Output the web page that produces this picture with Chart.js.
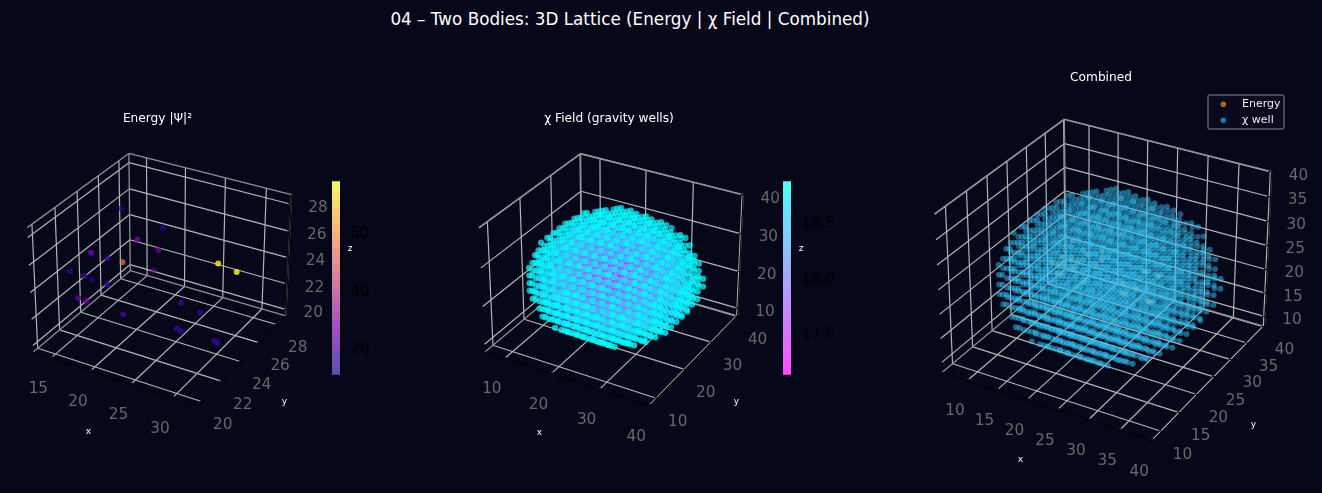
<!DOCTYPE html>
<html>
<head>
<meta charset="utf-8">
<script src="https://cdn.jsdelivr.net/npm/chart.js@4"></script>
<style>
  html, body { margin: 0; background: #07071a; width: 1322px; height: 493px; overflow: hidden; }
  canvas { position: absolute; left: 0; top: 0; }
  #suptitle { position: absolute; left: 0; top: 9px; width: 1260px; text-align: center; color: #fff;
    font: 16.8px "DejaVu Sans"; white-space: nowrap; }
</style>
</head>
<body>
<div id="suptitle">04 – Two Bodies: 3D Lattice (Energy | χ Field | Combined)</div>
<canvas id="panel1" width="1322" height="493"></canvas>
<canvas id="panel2" width="1322" height="493"></canvas>
<canvas id="panel3" width="1322" height="493"></canvas>
<canvas id="cbar1" width="80" height="224" style="left:332px;top:166px"></canvas>
<canvas id="cbar2" width="80" height="224" style="left:783px;top:166px"></canvas>
<script>
// energy points (x, y, z, |psi|^2)
const energyX = [16.4, 21.0, 19.2, 21.4, 16.4, 17.6, 17.9, 28.4, 30.3, 20.3, 15.6, 15.9, 16.3, 18.2, 16.3, 16.6, 25.6, 27.6, 19.9, 25.7, 26.3, 29.7, 30.2];
const energyY = [25.4, 25.9, 24.8, 25.1, 22.5, 23.1, 24.3, 25.4, 25.7, 25.5, 21.1, 22.2, 22.6, 22.6, 21.3, 21.8, 24.0, 24.3, 22.8, 23.5, 23.4, 24.0, 23.9];
const energyZ = [27.2, 26.2, 25.7, 25.1, 25.7, 25.1, 24.1, 25.1, 24.6, 23.1, 25.1, 24.1, 23.6, 23.6, 23.1, 22.6, 22.6, 22.0, 21.5, 21.0, 21.0, 20.5, 20.5];
const energyVal = [14, 14, 28, 27, 26, 17, 58, 74, 76, 26, 13, 17, 13, 16, 22, 24, 18, 17, 22, 18, 18, 17, 17];

// chi well lattice: one block per z, one string per y, one char per x
const wellX = [8, 10, 12, 14, 16, 18, 20, 22, 24, 26, 28, 30, 32, 34, 36, 38];
const wellY = [10, 12, 14, 16, 18, 20, 22, 24, 26, 28, 30, 32, 34, 36, 38];
const wellZ = [8, 10, 12, 14, 16, 18, 20, 22, 24, 26, 28, 30, 32, 34, 36, 38];
const chiLevels = [17.15, 17.45, 17.7, 17.9, 18.1, 18.25, 18.4, 18.55, 18.7, 18.85];
const layerCap = ['', '', '', '', '', '.......99.......', '......9999......', '......9999......', '......9999......', '.......99.......', '', '', '', '', ''];
const layerA = ['', '', '', '', '......9999......', '.....999999.....', '....99988999....', '....99988999....', '....99988999....', '.....999999.....', '......9999......', '', '', '', ''];
const layerB = ['', '', '', '.....999999.....', '....99888899....', '...9988778899...', '...9887777889...', '...9887777889...', '...9887777889...', '...9988778899...', '....99888899....', '.....999999.....', '', '', ''];
const layerC = ['', '', '.....999999.....', '...9988888899...', '...9877777789...', '..988766667889..', '..987766667789..', '..987666666789..', '..987766667789..', '..988766667889..', '...9877777789...', '...9988888899...', '.....999999.....', '', ''];
const layerD = ['', '.....999999.....', '...9988888899...', '..998777777899..', '..987666666789..', '.98776555567789.', '.98765544556789.', '.98765544556789.', '.98765544556789.', '.98776555567789.', '..987666666789..', '..998777777899..', '...9988888899...', '.....999999.....', ''];
const layerE = ['.......99.......', '....99888899....', '...9887777889...', '..987766667789..', '.98766555566789.', '.98765444456789.', '.87654433445678.', '.87654333345678.', '.87654433445678.', '.98765444456789.', '.98766555566789.', '..987766667789..', '...9887777889...', '....99888899....', '.......99.......'];
const layerF = ['......9999......', '....98888889....', '..988777777889..', '.98876655667889.', '.98765444456789.', '.87654333345678.', '9876533223356789', '9876432222346789', '9876533223356789', '.876543333456789', '.98765444456789.', '.98876655667889.', '..988777777889..', '....98888889....', '......9999......'];
const layerG = ['.....999999.....', '...9988888899...', '..988766667889..', '.98766555566789.', '.98655444455689.', '9876543223456789', '9875432112345789', '9865432002345689', '9875432112345789', '9876543223456789', '.986554444556899', '.98766555566789.', '..988766667889..', '...9988888899...', '.....999999.....'];
const wellCodes = [layerCap, layerA, layerB, layerC, layerD, layerE, layerF, layerG, layerG, layerF, layerE, layerD, layerC, layerB, layerA, layerCap];

// axis ticks
const energyXTicks = [15, 20, 25, 30];
const energyYTicks = [20, 22, 24, 26, 28];
const energyZTicks = [20, 22, 24, 26, 28];
const chiTicks = [10, 20, 30, 40];
const combinedTicks = [10, 15, 20, 25, 30, 35, 40];
const energyBarTicks = [20, 40, 60];
const chiBarTicks = [17.5, 18, 18.5];

const plasmaStops = [[13, 8, 135], [126, 3, 168], [204, 71, 120], [248, 149, 64], [240, 249, 33]];

function plasma(t) {
  t = Math.min(1, Math.max(0, t)) * (plasmaStops.length - 1);
  const i = Math.min(plasmaStops.length - 2, Math.floor(t));
  return plasmaStops[i].map((c, k) => c + (plasmaStops[i + 1][k] - c) * (t - i));
}
function coolR(t) {
  return [255 * (1 - t), 255 * t, 255];
}

// same view as mplot3d at elev 30, azim -60, box aspect 4:4:3
const BOX = [1.1905, 1.1905, 0.8929];
const U = [0.866, 0.5, 0];
const V = [-0.25, 0.433, 0.866];
const W = [0.433, -0.75, 0.5];
function project(lim, x, y, z) {
  const p = [
    ((x - lim.x[0]) / (lim.x[1] - lim.x[0]) - 0.5) * BOX[0],
    ((y - lim.y[0]) / (lim.y[1] - lim.y[0]) - 0.5) * BOX[1],
    ((z - lim.z[0]) / (lim.z[1] - lim.z[0]) - 0.5) * BOX[2],
  ];
  const dot = (a) => a[0] * p[0] + a[1] * p[1] + a[2] * p[2];
  const d = dot(W);
  return { x: dot(U) / (10 - d), y: dot(V) / (10 - d), depth: d };
}

function scatterSet(lim, pts, radius, alpha, minShade, colorOf) {
  const projected = pts.map((p) => ({ ...project(lim, p.x, p.y, p.z), v: p.v }));
  projected.sort((a, b) => a.depth - b.depth);
  const ds = projected.map((p) => p.depth);
  const lo = Math.min(...ds), hi = Math.max(...ds);
  const colors = projected.map((p) => {
    const c = colorOf(p.v);
    const shade = 1 - (1 - minShade) * (hi - p.depth) / (hi - lo || 1);
    return `rgba(${c[0]},${c[1]},${c[2]},${alpha * shade})`;
  });
  return {
    data: projected.map((p) => ({ x: p.x, y: p.y })),
    pointRadius: radius,
    pointBorderWidth: 0,
    pointBackgroundColor: colors,
    showLine: false,
  };
}

function lineSet(segments, color, width) {
  const data = [];
  segments.forEach((s) => data.push(s[0], s[1], { x: NaN, y: NaN }));
  return { data, showLine: true, spanGaps: false, borderColor: color, borderWidth: width, pointRadius: 0 };
}

function frameSets(cfg) {
  const { lim } = cfg;
  const P = (x, y, z) => project(lim, x, y, z);
  const [x0, x1] = lim.x, [y0, y1] = lim.y, [z0, z1] = lim.z;
  const grid = [], edge = [], axis = [];
  const tx = (x1 - x0) * 0.015, ty = (y1 - y0) * 0.015;
  cfg.xTicks.forEach((x) => {
    grid.push([P(x, y0, z0), P(x, y1, z0)], [P(x, y1, z0), P(x, y1, z1)]);
    axis.push([P(x, y0 - ty, z0), P(x, y0 + ty, z0)]);
  });
  cfg.yTicks.forEach((y) => {
    grid.push([P(x0, y, z0), P(x1, y, z0)], [P(x0, y, z0), P(x0, y, z1)]);
    axis.push([P(x1 - tx, y, z0), P(x1 + tx, y, z0)]);
  });
  cfg.zTicks.forEach((z) => {
    grid.push([P(x0, y0, z), P(x0, y1, z)], [P(x0, y1, z), P(x1, y1, z)]);
    axis.push([P(x1 - tx, y1, z), P(x1 + tx, y1, z)]);
  });
  edge.push([P(x0, y0, z1), P(x0, y1, z1)], [P(x0, y1, z1), P(x1, y1, z1)], [P(x0, y1, z0), P(x0, y1, z1)],
    [P(x0, y0, z0), P(x0, y1, z0)], [P(x0, y1, z0), P(x1, y1, z0)], [P(x1, y1, z0), P(x1, y1, z1)]);
  axis.push([P(x0, y0, z0), P(x1, y0, z0)], [P(x1, y0, z0), P(x1, y1, z0)], [P(x1, y1, z0), P(x1, y1, z1)]);
  return [lineSet(axis, '#000', 1.1), lineSet(edge, '#8f8f8f', 1.3), lineSet(grid, '#b4b4b4', 1.2)];
}

const textPlugin = {
  id: 'panelText',
  afterDraw(chart) {
    const cfg = chart.options.plugins.panelText;
    const { ctx, scales } = chart;
    const P = (x, y, z) => {
      const p = project(cfg.lim, x, y, z);
      return [scales.x.getPixelForValue(p.x), scales.y.getPixelForValue(p.y)];
    };
    ctx.save();
    ctx.textAlign = 'center';
    ctx.textBaseline = 'middle';
    const [x0, x1] = cfg.lim.x, [y0, y1] = cfg.lim.y, [z0, z1] = cfg.lim.z;
    ctx.fillStyle = '#686868';
    ctx.font = '15.3px "DejaVu Sans"';
    cfg.xTicks.forEach((t) => { const q = P(t, y0, z0); ctx.fillText(t, q[0] + cfg.xOff[0], q[1] + cfg.xOff[1]); });
    cfg.yTicks.forEach((t) => { const q = P(x1, t, z0); ctx.fillText(t, q[0] + cfg.yOff[0], q[1] + cfg.yOff[1]); });
    cfg.zTicks.forEach((t) => { const q = P(x1, y1, t); ctx.fillText(t, q[0] + cfg.zOff[0], q[1] + cfg.zOff[1]); });
    ctx.fillStyle = '#fff';
    ctx.font = '9px "DejaVu Sans"';
    cfg.axisLabels.forEach((l) => ctx.fillText(l[0], l[1], l[2]));
    ctx.font = '12.2px "DejaVu Sans"';
    ctx.fillText(cfg.title, cfg.titleAt[0], cfg.titleAt[1]);
    if (cfg.legend) {
      ctx.strokeStyle = '#5c5c68';
      ctx.lineWidth = 1.5;
      ctx.fillStyle = '#0a0a1c';
      ctx.beginPath();
      ctx.roundRect(1208, 95, 76, 34, 2);
      ctx.fill();
      ctx.stroke();
      ctx.font = '11px "DejaVu Sans"';
      ctx.textAlign = 'left';
      cfg.legend.forEach((item, i) => {
        const y = 104.3 + i * 16;
        ctx.fillStyle = item[1];
        ctx.beginPath();
        ctx.arc(1223.3, y, 2.8, 0, Math.PI * 2);
        ctx.fill();
        ctx.fillStyle = '#eee';
        ctx.fillText(item[0], 1242, y - 0.5);
      });
    }
    ctx.restore();
  },
};

function makePanel(id, cfg, pointSets) {
  const s = cfg.scale;
  new Chart(document.getElementById(id), {
    type: 'scatter',
    data: { datasets: [...pointSets, ...frameSets(cfg)] },
    plugins: [textPlugin],
    options: {
      responsive: false,
      animation: false,
      events: [],
      layout: { padding: 0, autoPadding: false },
      plugins: { legend: { display: false }, tooltip: { enabled: false }, panelText: cfg },
      scales: {
        x: { type: 'linear', display: false, min: (0 - cfg.cx) / s, max: (1322 - cfg.cx) / s },
        y: { type: 'linear', display: false, min: (cfg.cy - 493) / s, max: cfg.cy / s },
      },
    },
  });
}

function makeBar(id, range, ticks, stops) {
  new Chart(document.getElementById(id), {
    type: 'bar',
    data: {
      labels: [''],
      datasets: [{
        data: [range],
        barPercentage: 1,
        categoryPercentage: 1,
        backgroundColor(c) {
          const a = c.chart.chartArea;
          if (!a) return '#888';
          const g = c.chart.ctx.createLinearGradient(0, a.bottom, 0, a.top);
          stops.forEach((col, i) => g.addColorStop(i / (stops.length - 1), col));
          return g;
        },
      }],
    },
    options: {
      responsive: false,
      animation: false,
      events: [],
      layout: { padding: { top: 5, bottom: 5 }, autoPadding: false },
      plugins: { legend: { display: false }, tooltip: { enabled: false } },
      scales: {
        x: { display: false },
        y: {
          position: 'right',
          min: range[0],
          max: range[1],
          afterFit(scale) { scale.width = 72; },
          afterBuildTicks(scale) { scale.ticks = ticks.map((value) => ({ value })); },
          border: { color: '#000' },
          grid: { drawOnChartArea: false, color: '#000', tickLength: 4 },
          ticks: { color: '#000', padding: 6, font: { family: 'DejaVu Sans', size: 15.3 } },
        },
      },
    },
  });
}

const energyPts = energyX.map((x, i) => ({ x, y: energyY[i], z: energyZ[i], v: energyVal[i] }));
const wellPts = [];
wellZ.forEach((z, k) => wellY.forEach((y, j) => {
  const row = wellCodes[k][j];
  for (let i = 0; i < row.length; i++) {
    if (row[i] !== '.') wellPts.push({ x: wellX[i], y, z, v: chiLevels[+row[i]] });
  }
}));

const energyRange = [11.6, 78.3];
const chiRange = [17.14, 18.89];
const wellLim = { x: [5.7, 40.2], y: [7.5, 40.2], z: [7.9, 40.1] };

const energyCfg = {
  lim: { x: [12.7, 33.0], y: [19.6, 29.0], z: [19.5, 28.7] },
  scale: 1588, cx: 161.9, cy: 273.6,
  xTicks: energyXTicks, yTicks: energyYTicks, zTicks: energyZTicks,
  xOff: [-12.7, 31], yOff: [20.5, 23.5], zOff: [27, 3.5],
  axisLabels: [['x', 88.3, 432], ['y', 284.3, 401.7], ['z', 350, 248.3]],
  title: 'Energy |Ψ|²', titleAt: [157.5, 119],
};
const chiCfg = {
  lim: wellLim,
  scale: 1588, cx: 613.6, cy: 273.6,
  xTicks: chiTicks, yTicks: chiTicks, zTicks: chiTicks,
  xOff: [-12.7, 31], yOff: [20.5, 23.5], zOff: [27, 3.5],
  axisLabels: [['x', 539.3, 432.3], ['y', 736.3, 401.7], ['z', 801, 248.3]],
  title: 'χ Field (gravity wells)', titleAt: [609, 119],
};
const combinedCfg = {
  lim: wellLim,
  scale: 2025, cx: 1106.4, cy: 272.3,
  xTicks: combinedTicks, yTicks: combinedTicks, zTicks: combinedTicks,
  xOff: [-12.3, 31], yOff: [20.5, 23.5], zOff: [27, 3.5],
  axisLabels: [['x', 1020.3, 460], ['y', 1253.3, 424.3]],
  title: 'Combined', titleAt: [1101, 78],
  legend: [['Energy', 'rgba(224,130,50,0.75)'], ['χ well', 'rgba(30,150,215,0.8)']],
};

makePanel('panel1', energyCfg, [
  scatterSet(energyCfg.lim, energyPts, 3, 0.95, 0.6, (v) => plasma((v - energyRange[0]) / (energyRange[1] - energyRange[0]))),
]);
makePanel('panel2', chiCfg, [
  scatterSet(chiCfg.lim, wellPts, 3.1, 0.9, 0.6, (v) => coolR((v - chiRange[0]) / (chiRange[1] - chiRange[0]))),
]);
makePanel('panel3', combinedCfg, [
  scatterSet(combinedCfg.lim, wellPts, 2.9, 0.6, 0.6, () => [50, 200, 250]),
  scatterSet(combinedCfg.lim, energyPts, 2.6, 0.8, 0.6, () => [255, 140, 40]),
]);
makeBar('cbar1', energyRange, energyBarTicks, ['rgb(86,82,171)', 'rgb(165,78,194)', 'rgb(219,126,160)', 'rgb(250,181,121)', 'rgb(244,251,100)']);
makeBar('cbar2', chiRange, chiBarTicks, ['rgb(255,77,255)', 'rgb(77,255,255)']);
</script>
</body>
</html>
